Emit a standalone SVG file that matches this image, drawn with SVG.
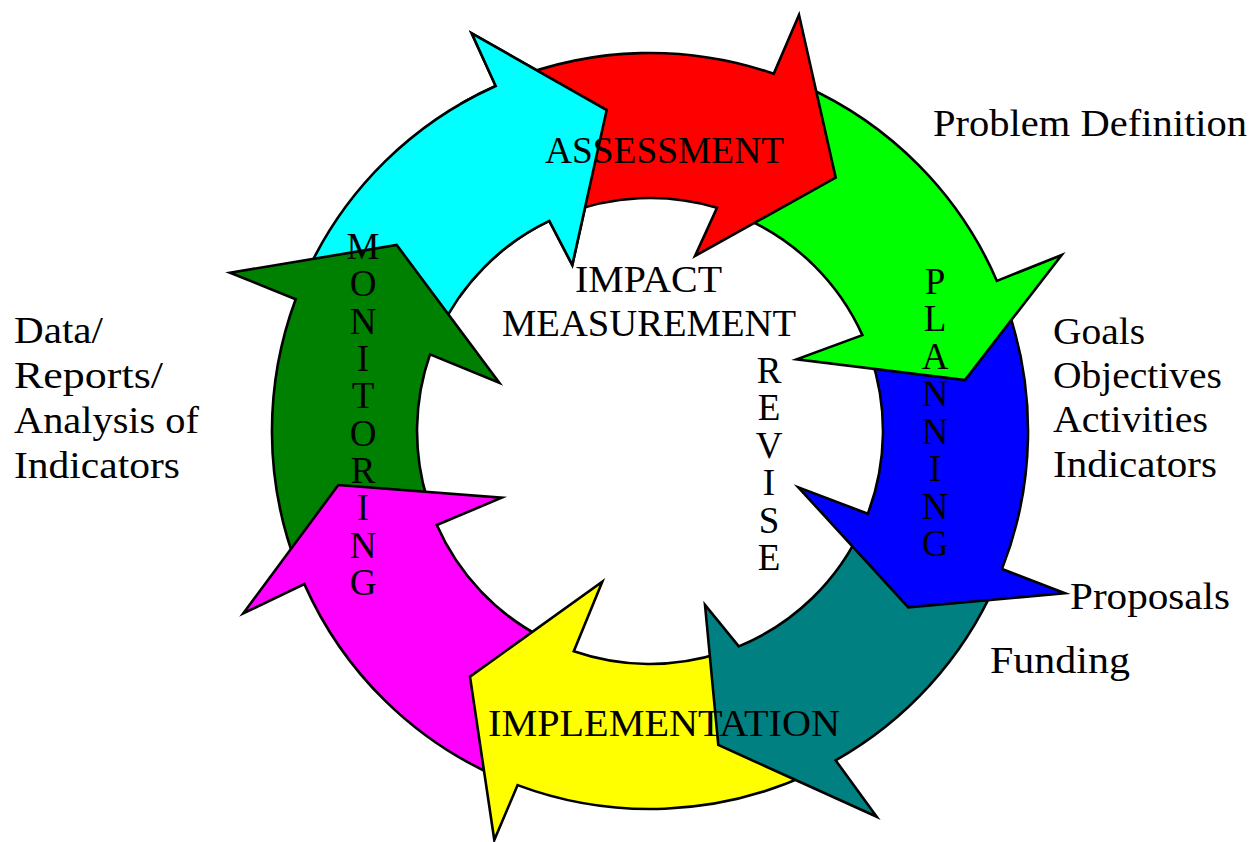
<svg xmlns="http://www.w3.org/2000/svg" xmlns:xlink="http://www.w3.org/1999/xlink" width="1253" height="842" viewBox="0 0 1253 842">
<style>
.arrow{stroke:#000;stroke-width:2.6;stroke-linejoin:miter;stroke-miterlimit:12}
text{font-family:"Liberation Serif","Times New Roman",serif;font-size:37px;fill:#000}
.v{text-anchor:middle}
</style>
<defs>
<clipPath id="cyanHeadClip"><rect x="460" y="0" width="400" height="300"/></clipPath>
</defs>
<rect width="1253" height="842" fill="#fff"/>
<g id="cycle">
<g id="arrow-monitoring-upper"><path id="cyanShape" class="arrow" fill="#00FFFF" d="M 307.4,271.3 A 378 378 0 0 1 495.7,86 L 471.7,33.3 L 606.7,110 L 572.3,265 L 549.3,220.9 A 233 233 0 0 0 438.8,332.5 Z"/></g>
<g id="arrow-monitoring"><path class="arrow" fill="#008000" d="M 297.1,566.5 A 378 378 0 0 1 295.7,299.2 L 230,272.7 L 396.7,245 L 499.3,382.7 L 430,354.4 A 233 233 0 0 0 427.2,499.1 Z"/></g>
<g id="arrow-implementation-left"><path class="arrow" fill="#FF00FF" d="M 502.3,779 A 378 378 0 0 1 304.4,584.1 L 243.3,613.3 L 338.3,485 L 501.7,497.7 L 436.8,525 A 233 233 0 0 0 544.2,638.6 Z"/></g>
<g id="arrow-implementation"><path class="arrow" fill="#FFFF00" d="M 809.7,773.6 A 378 378 0 0 1 517.6,785.1 L 494.3,840 L 470,676.7 L 602.3,581.7 L 573.8,651.2 A 233 233 0 0 0 722,652.6 Z"/></g>
<g id="arrow-funding"><path class="arrow" fill="#008080" d="M 995.3,584.7 A 378 378 0 0 1 835.6,760.3 L 876.7,816.7 L 718.3,745 L 705,605 L 738.8,646.4 A 233 233 0 0 0 862.8,525.8 Z"/></g>
<g id="arrow-planning-lower"><path class="arrow" fill="#0000FF" d="M 1007.4,307.9 A 378 378 0 0 1 1002,568.9 L 1065,593.3 L 908.3,607.3 L 798.3,487.3 L 867.8,513.7 A 233 233 0 0 0 870.3,355.1 Z"/></g>
<g id="arrow-planning"><path class="arrow" fill="#00FF00" d="M 803.7,85.7 A 378 378 0 0 1 996.9,280.9 L 1061.7,255 L 965,380 L 796.7,359.3 L 862.4,335.1 A 233 233 0 0 0 744.8,218.2 Z"/></g>
<g id="arrow-assessment"><path class="arrow" fill="#FF0000" d="M 508.4,80.5 A 378 378 0 0 1 773.7,73.8 L 799,15 L 835.7,177.7 L 695,256 L 717,207.8 A 233 233 0 0 0 562.7,215 Z"/></g>
<g id="arrow-monitoring-upper-head"><use xlink:href="#cyanShape" href="#cyanShape" clip-path="url(#cyanHeadClip)"/></g>
</g>
<g id="labels">
<text x="545" y="163" textLength="239" lengthAdjust="spacingAndGlyphs">ASSESSMENT</text>
<text x="575" y="292" textLength="147" lengthAdjust="spacingAndGlyphs">IMPACT</text>
<text x="502" y="336" textLength="294" lengthAdjust="spacingAndGlyphs">MEASUREMENT</text>
<text x="488" y="736" textLength="352" lengthAdjust="spacingAndGlyphs">IMPLEMENTATION</text>
<text class="v"><tspan x="769" y="383">R</tspan><tspan x="769" y="420.4">E</tspan><tspan x="769" y="457.8">V</tspan><tspan x="769" y="495.2">I</tspan><tspan x="769" y="532.6">S</tspan><tspan x="769" y="570">E</tspan></text>
<text class="v"><tspan x="935" y="294">P</tspan><tspan x="935" y="331.4">L</tspan><tspan x="935" y="368.9">A</tspan><tspan x="935" y="406.3">N</tspan><tspan x="935" y="443.7">N</tspan><tspan x="935" y="481.1">I</tspan><tspan x="935" y="518.6">N</tspan><tspan x="935" y="556">G</tspan></text>
<text class="v"><tspan x="363" y="259">M</tspan><tspan x="363" y="296.3">O</tspan><tspan x="363" y="333.7">N</tspan><tspan x="363" y="371">I</tspan><tspan x="363" y="408.3">T</tspan><tspan x="363" y="445.7">O</tspan><tspan x="363" y="483">R</tspan><tspan x="363" y="520.3">I</tspan><tspan x="363" y="557.7">N</tspan><tspan x="363" y="595">G</tspan></text>
<text x="933" y="136" textLength="314" lengthAdjust="spacingAndGlyphs">Problem Definition</text>
<text x="1053" y="344" textLength="92" lengthAdjust="spacingAndGlyphs">Goals</text>
<text x="1053" y="388" textLength="169" lengthAdjust="spacingAndGlyphs">Objectives</text>
<text x="1053" y="432" textLength="155" lengthAdjust="spacingAndGlyphs">Activities</text>
<text x="1053" y="477" textLength="164" lengthAdjust="spacingAndGlyphs">Indicators</text>
<text x="1070" y="609" textLength="160" lengthAdjust="spacingAndGlyphs">Proposals</text>
<text x="990" y="673" textLength="140" lengthAdjust="spacingAndGlyphs">Funding</text>
<text x="14" y="343" textLength="89" lengthAdjust="spacingAndGlyphs">Data/</text>
<text x="14" y="388" textLength="149" lengthAdjust="spacingAndGlyphs">Reports/</text>
<text x="14" y="433" textLength="185" lengthAdjust="spacingAndGlyphs">Analysis of</text>
<text x="14" y="478" textLength="166" lengthAdjust="spacingAndGlyphs">Indicators</text>
</g>
</svg>
